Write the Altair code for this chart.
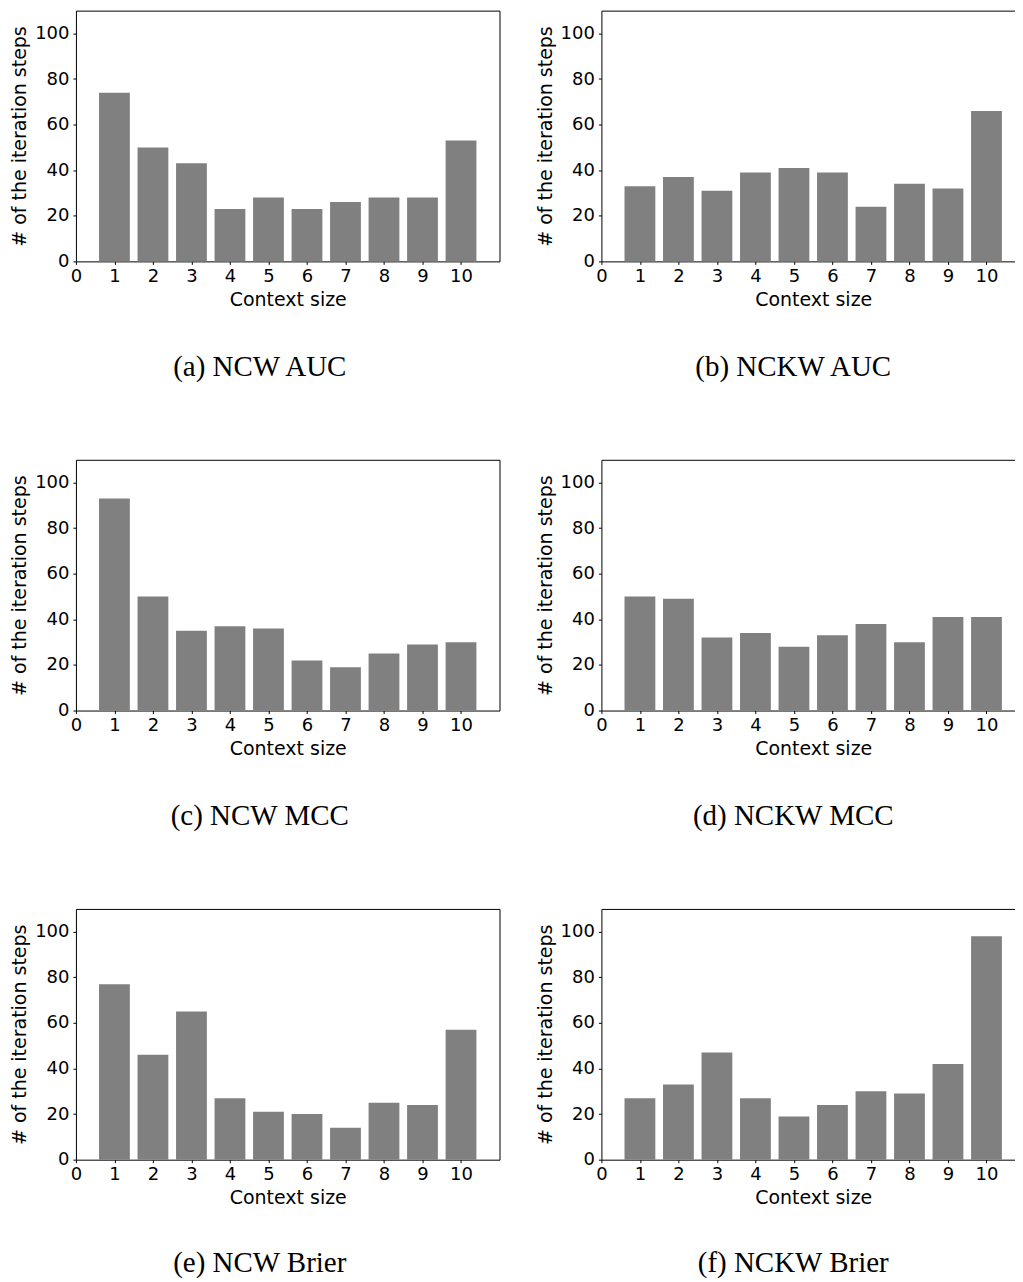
import altair as alt
import pandas as pd

context = list(range(1, 11))
ncw_auc = [74, 50, 43, 23, 28, 23, 26, 28, 28, 53]
nckw_auc = [33, 37, 31, 39, 41, 39, 24, 34, 32, 66]
ncw_mcc = [93, 50, 35, 37, 36, 22, 19, 25, 29, 30]
nckw_mcc = [50, 49, 32, 34, 28, 33, 38, 30, 41, 41]
ncw_brier = [77, 46, 65, 27, 21, 20, 14, 25, 24, 57]
nckw_brier = [27, 33, 47, 27, 19, 24, 30, 29, 42, 98]
captions = ["(a) NCW AUC", "(b) NCKW AUC", "(c) NCW MCC",
            "(d) NCKW MCC", "(e) NCW Brier", "(f) NCKW Brier"]
x_ticks = list(range(0, 11))
y_ticks = [0, 20, 40, 60, 80, 100]

PLOT_H = 251


def panel(values, caption, width, xmax, cap_x, cap_y):
    df = pd.DataFrame({"k": context, "v": values})
    bars = (
        alt.Chart(df)
        .transform_calculate(lo="datum.k - 0.4", hi="datum.k + 0.4")
        .mark_bar(color="#808080")
        .encode(
            x=alt.X(
                "lo:Q",
                scale=alt.Scale(domain=[0, xmax], nice=False, zero=False),
                axis=alt.Axis(
                    values=x_ticks,
                    title="Context size",
                    titleX=212,
                    titleY=44,
                    titleBaseline="alphabetic",
                    titleAlign="center",
                ),
            ),
            x2="hi:Q",
            y=alt.Y(
                "v:Q",
                scale=alt.Scale(domain=[0, 110], nice=False),
                axis=alt.Axis(
                    values=y_ticks,
                    title="# of the iteration steps",
                    titleX=-56,
                    titleY=PLOT_H / 2,
                    titleAngle=270,
                    titleAlign="center",
                    titleBaseline="middle",
                    labelPadding=4,
                ),
            ),
            y2=alt.datum(0),
        )
    )
    cap = (
        alt.Chart(pd.DataFrame({"c": [caption]}))
        .mark_text(font="Liberation Serif", fontSize=29, baseline="alphabetic",
                   align="center", color="black")
        .encode(x=alt.value(cap_x), y=alt.value(cap_y), text="c:N")
    )
    return alt.layer(bars, cap).properties(width=width, height=PLOT_H)


W, XMAX = 424, 11.0
cap_ys = [366, 366, 363]

series = [ncw_auc, nckw_auc, ncw_mcc, nckw_mcc, ncw_brier, nckw_brier]
panels = []
for i, (vals, cap) in enumerate(zip(series, captions)):
    cy = cap_ys[i // 2]
    if i % 2 == 0:
        panels.append(panel(vals, cap, W, XMAX, 184, cy))
    else:
        panels.append(panel(vals, cap, W, XMAX, 192, cy))

chart = (
    alt.concat(*panels, columns=2, spacing={"row": 198.6, "column": 102},
               bounds="flush")
    .properties(padding={"left": 2, "top": 1, "right": -11, "bottom": 0})
    .configure_view(stroke="black", strokeWidth=1)
    .configure_axis(
        labelFont="DejaVu Sans",
        labelFontSize=18,
        labelColor="black",
        titleFont="DejaVu Sans",
        titleFontSize=19,
        titleFontWeight="normal",
        titleColor="black",
        tickColor="black",
        tickSize=3,
        tickWidth=1,
        domain=False,
        grid=False,
        labelFlush=False,
        labelOverlap=False,
    )
    .configure_axisX(labelPadding=3)
)

chart.save("out.html", embed_options={"renderer": "svg", "actions": False})
